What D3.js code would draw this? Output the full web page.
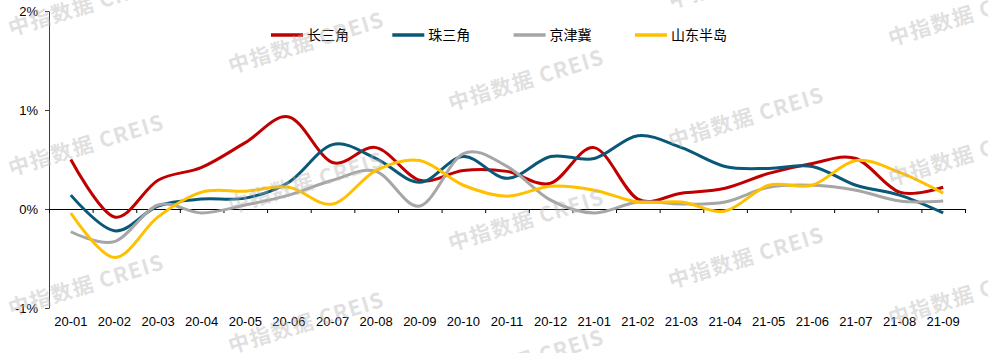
<!DOCTYPE html>
<html lang="zh">
<head>
    <meta charset="UTF-8">
    <title>环比走势</title>
    <script src="https://cdn.jsdelivr.net/npm/d3@7/dist/d3.min.js"></script>
    <style>
        body { margin: 0; background: #fff; }
        .chart-container svg { display: block; }
    </style>
</head>
<body>
    <div class="chart-container"></div>
</body>
<script>
    const months = ['20-01', '20-02', '20-03', '20-04', '20-05', '20-06', '20-07', '20-08', '20-09', '20-10', '20-11',
        '20-12', '21-01', '21-02', '21-03', '21-04', '21-05', '21-06', '21-07', '21-08', '21-09']
    const seriesNames = ['长三角', '珠三角', '京津冀', '山东半岛']
    const yrd = [0.50, -0.08, 0.29, 0.42, 0.67, 0.93, 0.47, 0.62, 0.29, 0.39, 0.38, 0.26, 0.62, 0.10, 0.16, 0.21, 0.36, 0.46, 0.51, 0.17, 0.22]
    const prd = [0.14, -0.22, 0.03, 0.10, 0.11, 0.27, 0.65, 0.51, 0.27, 0.53, 0.31, 0.53, 0.51, 0.74, 0.62, 0.43, 0.41, 0.43, 0.24, 0.14, -0.04]
    const jjj = [-0.23, -0.33, 0.04, -0.04, 0.04, 0.14, 0.29, 0.38, 0.03, 0.56, 0.43, 0.09, -0.04, 0.07, 0.05, 0.07, 0.22, 0.24, 0.19, 0.08, 0.08]
    const sdbd = [-0.04, -0.49, -0.08, 0.17, 0.18, 0.22, 0.05, 0.39, 0.49, 0.24, 0.13, 0.23, 0.19, 0.07, 0.07, -0.02, 0.24, 0.24, 0.49, 0.37, 0.16]
    const yTicks = [-1, 0, 1, 2]

    const width = 988
    const height = 353
    const colors = ['#c00000', '#0a5878', '#a6a6a6', '#ffc000']
    const dataset = [yrd, prd, jjj, sdbd].map((values, i) => ({ name: seriesNames[i], values }))

    const xScale = d3.scaleBand().domain(months).range([49, 965]).padding(0)
    const xEdge = d3.scaleLinear().domain([0, months.length]).range([49, 965])
    const yScale = d3.scaleLinear().domain([-1, 2]).range([308, 11])

    const svg = d3.select('.chart-container')
        .append('svg')
        .attr('width', width)
        .attr('height', height)

    // y axis
    const yAxis = d3.axisLeft(yScale)
        .tickValues(yTicks)
        .tickFormat(d => d + '%')
        .tickSizeInner(4)
        .tickSizeOuter(0)
        .tickPadding(7)
    const gY = svg.append('g')
        .attr('transform', 'translate(49, 0)')
        .call(yAxis)
    gY.select('.domain').attr('stroke', '#404040')
    gY.selectAll('.tick line').attr('stroke', '#404040')
    gY.selectAll('text')
        .attr('font-family', 'Liberation Sans, Arial, sans-serif')
        .attr('font-size', '13px')
        .attr('fill', '#000')

    // x axis line through 0 with ticks between months
    const xAxis = d3.axisBottom(xEdge)
        .tickValues(d3.range(months.length + 1))
        .tickFormat('')
        .tickSizeInner(4)
        .tickSizeOuter(0)
    const gX = svg.append('g')
        .attr('transform', `translate(0, ${yScale(0)})`)
        .call(xAxis)
    gX.select('.domain').attr('stroke', '#000')
    gX.selectAll('.tick line').attr('stroke', '#000')

    // month labels at bottom
    const xLabels = d3.axisBottom(xScale)
        .tickSize(0)
        .tickPadding(9)
    const gXL = svg.append('g')
        .attr('transform', `translate(0, ${yScale(-1)})`)
        .call(xLabels)
    gXL.select('.domain').remove()
    gXL.selectAll('text')
        .attr('font-family', 'Liberation Sans, Arial, sans-serif')
        .attr('font-size', '13px')
        .attr('fill', '#000')

    // lines
    const linePath = d3.line()
        .x((d, i) => xScale(months[i]) + xScale.bandwidth() / 2)
        .y(d => yScale(d))
        .curve(d3.curveCardinal.tension(0))

    svg.selectAll('.path')
        .data(dataset)
        .enter()
        .append('path')
        .attr('class', 'path')
        .attr('fill', 'none')
        .attr('stroke', (d, i) => colors[i])
        .attr('stroke-width', 3)
        .attr('stroke-linejoin', 'round')
        .attr('d', d => linePath(d.values))

    // legend
    const legend = svg.selectAll('.legend')
        .data(dataset)
        .enter()
        .append('g')
        .attr('class', 'legend')
        .attr('transform', (d, i) => `translate(${271 + i * 121.3}, 35)`)
    legend.append('line')
        .attr('x1', 0).attr('x2', 32)
        .attr('y1', 0).attr('y2', 0)
        .attr('stroke', (d, i) => colors[i])
        .attr('stroke-width', 3.5)
    legend.append('text')
        .attr('x', 36)
        .attr('dy', '0.36em')
        .attr('font-family', 'Noto Sans CJK SC, sans-serif')
        .attr('font-size', '14px')
        .attr('fill', '#000')
        .text(d => d.name)

    // watermark (tiled, cut at the edges like the original)
    const marks = []
    for (let j = 0; j < 5; j++) {
        const off = (26 + 37.5 * j) % 140
        for (let k = -1; k < 3; k++) {
            marks.push([11 + 220 * j, off + 10 + 140 * k])
        }
    }
    svg.selectAll('.wm')
        .data(marks)
        .enter()
        .append('text')
        .attr('class', 'wm')
        .attr('transform', d => `translate(${d[0]}, ${d[1]}) rotate(-17)`)
        .attr('font-family', 'Noto Sans CJK SC, sans-serif')
        .attr('font-weight', 'bold')
        .attr('font-size', '21px')
        .attr('letter-spacing', '1.2px')
        .attr('fill', '#b4b4b4')
        .attr('fill-opacity', 0.42)
        .text('中指数据  CREIS')
</script>
</html>
